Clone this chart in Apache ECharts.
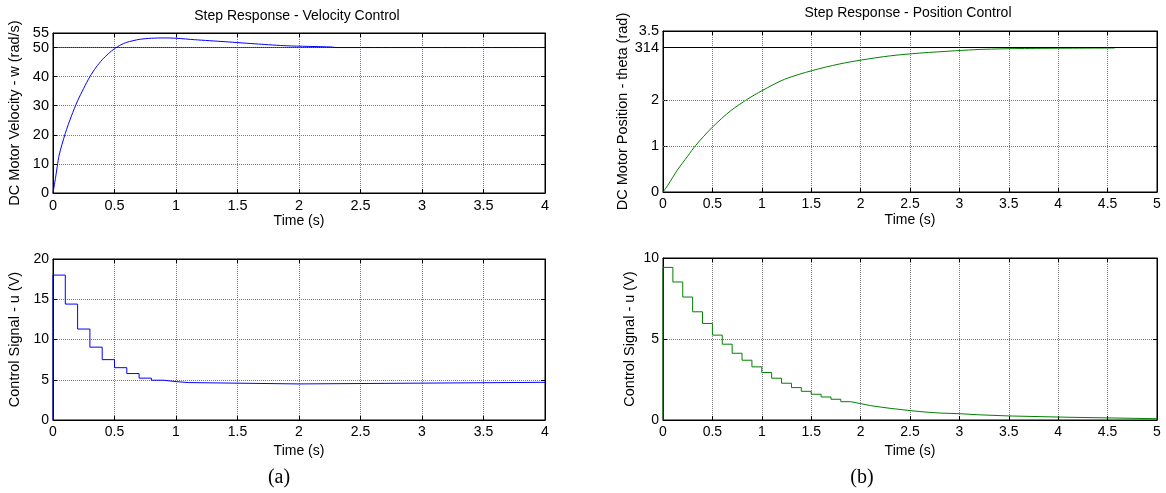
<!DOCTYPE html>
<html><head><meta charset="utf-8">
<script src="https://cdn.jsdelivr.net/npm/echarts@6/dist/echarts.min.js"></script>
<style>html,body{margin:0;padding:0;background:#fff}#c{width:1166px;height:493px}</style>
</head><body><div id="c"></div>
<script>
// ---- data ----
const velTime  = [0, 0.02, 0.05, 0.1, 0.15, 0.2, 0.25, 0.3, 0.35, 0.4, 0.45, 0.5, 0.55, 0.6, 0.7, 0.8, 0.9, 1.0, 1.15, 1.4, 1.67, 1.9, 2.26, 2.3, 4];
const velOmega = [0, 5, 13, 20.5, 26.5, 31.7, 36, 40, 43.2, 45.8, 47.9, 49.6, 50.9, 51.8, 52.8, 53.2, 53.3, 53.2, 52.7, 52.0, 51.2, 50.6, 50.2, 50.0, 50.0];
const velRef = 50;

const ctrlATime = [0, 0, 0.1, 0.2, 0.3, 0.4, 0.5, 0.6, 0.7, 0.8, 0.9, 1.0, 1.1, 2.0, 4];
const ctrlAU    = [0, 18, 14.4, 11.3, 9.05, 7.5, 6.5, 5.77, 5.2, 4.94, 4.77, 4.65, 4.48, 4.68, 4.68];

const posTime  = [0, 0.05, 0.143, 0.25, 0.33, 0.5, 0.687, 0.857, 1.0, 1.23, 1.51, 1.78, 2.01, 2.3, 2.6, 2.96, 3.22, 3.66, 4.57];
const posTheta = [0, 0.15, 0.47, 0.78, 1.01, 1.41, 1.77, 2.02, 2.2, 2.45, 2.64, 2.78, 2.87, 2.96, 3.02, 3.07, 3.10, 3.12, 3.13];
const posRef = 3.14;

const ctrlBTime = [0, 0, 0.1, 0.2, 0.3, 0.4, 0.5, 0.6, 0.7, 0.8, 0.9, 1.0, 1.1, 1.2, 1.3, 1.4, 1.5, 1.6, 1.7, 1.8, 1.9, 2.0, 2.1, 2.2, 2.3, 2.4, 2.5, 2.6, 2.7, 2.8, 3.0, 3.2, 3.5, 4.1, 5];
const ctrlBU    = [0, 9.42, 8.52, 7.59, 6.68, 5.96, 5.24, 4.68, 4.12, 3.69, 3.28, 2.93, 2.58, 2.27, 2.0, 1.77, 1.59, 1.42, 1.28, 1.13, 1.01, 0.89, 0.80, 0.72, 0.65, 0.58, 0.52, 0.47, 0.43, 0.39, 0.32, 0.25, 0.17, 0.08, 0.08];

const velYTicks = [0, 10, 20, 30, 40, 50];
const velYTopTick = [55];
const posYTicks = [0, 1, 2, 3.14, 3.5];
const posYTickLabels = ['0', '1', '2', '314', '3.5'];
const posYGrid = [1, 2];

const titles = ['Step Response - Velocity Control', 'Step Response - Position Control'];
const yNames = ['DC Motor Velocity - w (rad/s)', 'Control Signal - u (V)', 'DC Motor Position - theta (rad)', 'Control Signal - u (V)'];
const xName = 'Time (s)';
const panelLabels = ['(a)', '(b)'];

// ---- chart ----
const SANS = '"Liberation Sans", Arial, sans-serif';
const SERIF = '"Liberation Serif", "Times New Roman", serif';
const zip = (a, b) => a.map((v, i) => [v, b[i]]);

const grids = [
  {left: 53, top: 33, width: 492, height: 160},
  {left: 53, top: 259, width: 492, height: 161},
  {left: 663, top: 31, width: 494, height: 161},
  {left: 663, top: 258, width: 494, height: 162}
];
const xMax = [4, 4, 5, 5];
const yCfg = [
  {max: 55, interval: 10, fs: 14.5, labels: velYTicks},
  {max: 20, interval: 5, fs: 14},
  {max: 3.5, fs: 14.5, custom: true},
  {max: 10, interval: 5, fs: 14}
];
const xFs = [14.5, 14, 14, 14];
const xNameGap = [21, 24, 21, 24];
const yNameGap = [31, 31, 29, 26];
const yNameFs = [14.5, 14.5, 14.5, 14.5];

const gridLine = {show: true, lineStyle: {color: '#7a7a7a', type: [1, 1], width: 1}};
const axLine = {show: true, onZero: false, lineStyle: {color: '#000', width: 1}};
const tick = {show: true, inside: true, length: 4, lineStyle: {color: '#000'}};

const xAxis = [], yAxis = [];
grids.forEach((g, i) => {
  xAxis.push({
    type: 'value', gridIndex: i, min: 0, max: xMax[i], interval: 0.5, position: 'bottom',
    axisLine: axLine, axisTick: tick, splitLine: gridLine,
    axisLabel: {color: '#000', fontFamily: SANS, fontSize: xFs[i], margin: 5, showMinLabel: true, showMaxLabel: true, hideOverlap: false},
    name: xName, nameLocation: 'middle', nameGap: xNameGap[i],
    nameTextStyle: {color: '#000', fontFamily: SANS, fontSize: 14}
  });
  xAxis.push({
    type: 'value', gridIndex: i, min: 0, max: xMax[i], interval: 0.5, position: 'top',
    axisLine: axLine, axisTick: tick, splitLine: {show: false}, axisLabel: {show: false}
  });
  const c = yCfg[i];
  const ya = {
    type: 'value', gridIndex: i, min: 0, max: c.max, position: 'left',
    axisLine: axLine, axisTick: tick,
    axisLabel: {color: '#000', fontFamily: SANS, fontSize: c.fs, margin: 4, showMinLabel: true, showMaxLabel: true, hideOverlap: false},
    name: yNames[i], nameLocation: 'middle', nameRotate: 90, nameGap: yNameGap[i],
    nameTextStyle: {color: '#000', fontFamily: SANS, fontSize: yNameFs[i]}
  };
  const yb = {
    type: 'value', gridIndex: i, min: 0, max: c.max, position: 'right',
    axisLine: axLine, axisTick: Object.assign({}, tick), splitLine: {show: false}, axisLabel: {show: false}
  };
  if (c.custom) {
    ya.splitLine = {show: false};
    ya.axisLabel.customValues = posYTicks;
    ya.axisLabel.formatter = (v) => posYTickLabels[posYTicks.indexOf(v)] ?? String(v);
    ya.axisTick = Object.assign({}, tick, {customValues: posYTicks});
    yb.axisTick = Object.assign({}, tick, {customValues: posYTicks});
  } else {
    ya.interval = c.interval; yb.interval = c.interval;
    ya.splitLine = gridLine;
    if (c.labels) ya.axisLabel.customValues = c.labels;
  }
  yAxis.push(ya, yb);
});
// extra left axis on the velocity panel carrying only the top "55" label
yAxis.push({
  type: 'value', gridIndex: 0, min: 0, max: yCfg[0].max, position: 'left',
  axisLine: {show: false}, axisTick: {show: false}, splitLine: {show: false},
  axisLabel: {show: true, customValues: velYTopTick, color: '#000', fontFamily: SANS, fontSize: yCfg[0].fs, margin: 4}
});

const lineBase = {type: 'line', showSymbol: false, symbol: 'none', animation: false, silent: true};
const refLine = (v, color) => ({
  silent: true, symbol: 'none', label: {show: false}, animation: false,
  lineStyle: {color: color, type: 'solid', width: 1}, data: [{yAxis: v}]
});

const series = [
  Object.assign({}, lineBase, {
    name: 'velocity', xAxisIndex: 0, yAxisIndex: 0, data: zip(velTime, velOmega),
    smooth: 0.25,
    lineStyle: {color: '#0000ff', width: 1}, z: 2
  }),
  Object.assign({}, lineBase, {
    name: 'velocity reference', xAxisIndex: 0, yAxisIndex: 0, data: [],
    z: 3, markLine: refLine(velRef, 'rgba(0,0,0,0.6)')
  }),
  Object.assign({}, lineBase, {
    name: 'u (a)', xAxisIndex: 2, yAxisIndex: 2, data: zip(ctrlATime, ctrlAU), step: 'end',
    lineStyle: {color: '#0000ff', width: 1}
  }),
  Object.assign({}, lineBase, {
    name: 'position', xAxisIndex: 4, yAxisIndex: 4, data: zip(posTime, posTheta),
    smooth: 0.3,
    lineStyle: {color: '#008000', width: 1}, z: 3,
    markLine: {
      silent: true, symbol: 'none', label: {show: false}, animation: false,
      data: posYGrid.map(v => ({yAxis: v, lineStyle: {color: '#7a7a7a', type: [1, 1], width: 1}}))
        .concat([{yAxis: posRef, lineStyle: {color: '#000', type: 'solid', width: 1}}])
    }
  }),
  Object.assign({}, lineBase, {
    name: 'u (b)', xAxisIndex: 6, yAxisIndex: 6, data: zip(ctrlBTime, ctrlBU), step: 'end',
    lineStyle: {color: '#008000', width: 1}
  })
];

const graphic = [
  {type: 'text', x: 297, y: 16, style: {text: titles[0], fill: '#000', font: '14px ' + SANS, textAlign: 'center', textVerticalAlign: 'middle'}},
  {type: 'text', x: 908, y: 13, style: {text: titles[1], fill: '#000', font: '14px ' + SANS, textAlign: 'center', textVerticalAlign: 'middle'}},
  {type: 'text', x: 279, y: 478, style: {text: panelLabels[0], fill: '#000', font: '20px ' + SERIF, textAlign: 'center', textVerticalAlign: 'middle'}},
  {type: 'text', x: 862, y: 478, style: {text: panelLabels[1], fill: '#000', font: '20px ' + SERIF, textAlign: 'center', textVerticalAlign: 'middle'}}
];

const chart = echarts.init(document.getElementById('c'), null, {renderer: 'canvas'});
chart.setOption({
  animation: false,
  backgroundColor: '#fff',
  grid: grids.map(g => Object.assign({show: true, borderColor: '#000', borderWidth: 1, backgroundColor: '#fff', containLabel: false, outerBoundsMode: 'none'}, g)),
  xAxis, yAxis, series, graphic
});
</script></body></html>
